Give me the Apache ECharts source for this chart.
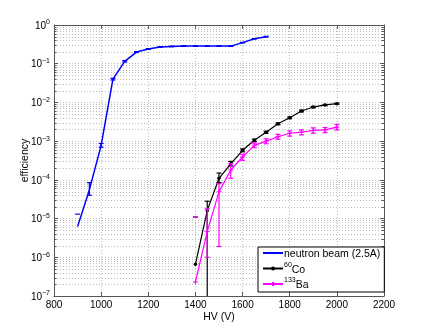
<!DOCTYPE html>
<html>
<head>
<meta charset="utf-8">
<script src="https://cdn.jsdelivr.net/npm/echarts@6/dist/echarts.min.js"></script>
<style>
  html, body { margin: 0; padding: 0; background: #fff; }
  #chart { width: 425px; height: 333px; }
</style>
</head>
<body>
<div id="chart"></div>
<script>
// HV settings (V)
const hvNeutron = [900, 950, 1000, 1050, 1100, 1150, 1200, 1250, 1300, 1350, 1400, 1450, 1500, 1550, 1600, 1650, 1700];
const effNeutron = [6.2e-6, 5.5e-5, 7.8e-4, 0.04, 0.115, 0.2, 0.24, 0.27, 0.28, 0.285, 0.285, 0.285, 0.285, 0.285, 0.35, 0.44, 0.5];
// error bar bounds (0 = lower bound not drawable on log axis)
const loNeutron = [0, 4.0e-5, 7.0e-4, 0.038, 0.11, 0.195, 0.235, 0.265, 0.275, 0.28, 0.28, 0.28, 0.28, 0.28, 0.345, 0.435, 0.49];
const hiNeutron = [1.3e-5, 8.5e-5, 8.7e-4, 0.042, 0.12, 0.205, 0.245, 0.275, 0.285, 0.29, 0.29, 0.29, 0.29, 0.29, 0.355, 0.445, 0.51];

const hvSource = [1400, 1450, 1500, 1550, 1600, 1650, 1700, 1750, 1800, 1850, 1900, 1950, 2000];
const effCo = [6.6e-7, 1.6e-5, 1.1e-4, 2.6e-4, 5.8e-4, 1.05e-3, 1.7e-3, 2.8e-3, 4.0e-3, 6.0e-3, 7.6e-3, 8.6e-3, 9.3e-3];
const loCo = [0, 1e-9, 8.5e-5, 2.3e-4, 5.3e-4, 9.7e-4, 1.6e-3, 2.65e-3, 3.8e-3, 5.7e-3, 7.3e-3, 8.3e-3, 9.0e-3];
const hiCo = [1.1e-5, 2.8e-5, 1.5e-4, 3.0e-4, 6.3e-4, 1.13e-3, 1.8e-3, 2.95e-3, 4.2e-3, 6.3e-3, 7.9e-3, 8.9e-3, 9.6e-3];

const effBa = [2.3e-7, 4.6e-6, 4.9e-5, 1.8e-4, 3.9e-4, 7.8e-4, 1.0e-3, 1.3e-3, 1.6e-3, 1.7e-3, 1.9e-3, 1.95e-3, 2.3e-3];
const loBa = [0, 1e-6, 1.9e-6, 1.1e-4, 3.2e-4, 6.8e-4, 8.6e-4, 1.12e-3, 1.35e-3, 1.45e-3, 1.6e-3, 1.65e-3, 1.95e-3];
const hiBa = [1.1e-5, 1.8e-5, 8.0e-5, 2.6e-4, 4.6e-4, 9.0e-4, 1.15e-3, 1.5e-3, 1.85e-3, 1.95e-3, 2.2e-3, 2.25e-3, 2.7e-3];

const legendNames = ['neutron beam (2.5A)', '60Co', '133Ba'];

const BLUE = '#0000ff', BLACK = '#000000', MAGENTA = '#ff00ff';
const GRIDCOL = '#bdbdbd';
const FONT = 'Liberation Sans';

// minor log grid positions (2..9 x 10^e)
const minorTicks = [];
for (let e = -7; e < 0; e++) {
  for (let m = 2; m <= 9; m++) minorTicks.push(m * Math.pow(10, e));
}

function pairs(xs, ys) {
  return xs.map((x, i) => [x, ys[i]]);
}
function errData(xs, ys, lo, hi) {
  return xs.map((x, i) => [x, ys[i], lo[i], hi[i]]);
}

function errorBar(color) {
  return function (params, api) {
    const cs = params.coordSys;
    const bottom = cs.y + cs.height;
    const x = api.value(0);
    const lo = api.value(2);
    const hi = api.value(3);
    const top = api.coord([x, hi]);
    const w = 2.5;
    const style = { stroke: color, lineWidth: 1.2 };
    const children = [];
    children.push({ type: 'line', shape: { x1: top[0] - w, y1: top[1], x2: top[0] + w, y2: top[1] }, style: style });
    if (lo > 0) {
      let yl = api.coord([x, lo])[1];
      let capped = true;
      if (yl > bottom) { yl = bottom; capped = false; }
      children.push({ type: 'line', shape: { x1: top[0], y1: top[1], x2: top[0], y2: yl }, style: style });
      if (capped) {
        children.push({ type: 'line', shape: { x1: top[0] - w, y1: yl, x2: top[0] + w, y2: yl }, style: style });
      }
    }
    return { type: 'group', children: children };
  };
}

function supLabel(value) {
  const e = Math.round(Math.log10(value));
  return '{b|10}{s|' + (e < 0 ? '\u2212' + (-e) : e) + '}';
}

const supRich = {
  b: { fontSize: 10, lineHeight: 12, verticalAlign: 'bottom', color: '#000', fontFamily: FONT },
  s: { fontSize: 7, lineHeight: 7, verticalAlign: 'top', color: '#000', fontFamily: FONT }
};

const chart = echarts.init(document.getElementById('chart'));

const option = {
  animation: false,
  backgroundColor: '#fff',
  textStyle: { fontFamily: FONT },
  grid: { left: 54, right: 41, top: 25, bottom: 37 },
  legend: {
    data: [
      { name: legendNames[0], itemStyle: { opacity: 0 } },
      { name: legendNames[1] },
      { name: legendNames[2] }
    ],
    orient: 'vertical',
    left: 258,
    top: 247,
    itemWidth: 20,
    itemHeight: 5,
    itemGap: 1.5,
    padding: [2, 4, 1, 4],
    backgroundColor: '#fff',
    borderColor: '#000',
    borderWidth: 1,
    borderRadius: 0,
    textStyle: {
      fontSize: 10,
      color: '#000',
      fontFamily: FONT,
      padding: [0, 0, 0, -4],
      rich: {
        b: { fontSize: 10.5, lineHeight: 14, verticalAlign: 'bottom', color: '#000', fontFamily: FONT },
        s: { fontSize: 7, lineHeight: 7, verticalAlign: 'top', color: '#000', fontFamily: FONT }
      }
    },
    formatter: function (name) {
      if (name === '60Co') return '{s|60}{b|Co}';
      if (name === '133Ba') return '{s|133}{b|Ba}';
      return '{b|' + name + '}';
    }
  },
  xAxis: [
    {
      type: 'value',
      min: 800,
      max: 2200,
      interval: 200,
      name: 'HV (V)',
      nameLocation: 'middle',
      nameGap: 16,
      nameMoveOverlap: false,
      nameTextStyle: { fontSize: 10.5, color: '#000', fontFamily: FONT },
      axisLine: { lineStyle: { color: '#555', width: 1 } },
      axisTick: { inside: true, length: 4, lineStyle: { color: '#555' } },
      axisLabel: { fontSize: 10, color: '#000', margin: 4, formatter: v => String(v) },
      splitLine: { show: true, lineStyle: { color: GRIDCOL, type: [1, 2], width: 1 } }
    },
    {
      type: 'value',
      position: 'top',
      min: 800,
      max: 2200,
      interval: 200,
      axisLine: { show: true, onZero: false, lineStyle: { color: '#555', width: 1 } },
      axisTick: { inside: true, length: 4, lineStyle: { color: '#555' } },
      axisLabel: { show: false },
      splitLine: { show: false }
    }
  ],
  yAxis: [
    {
      type: 'log',
      logBase: 10,
      min: 1e-7,
      max: 1,
      splitNumber: 7,
      name: 'efficiency',
      nameLocation: 'middle',
      nameGap: 23,
      nameMoveOverlap: false,
      nameRotate: 90,
      nameTextStyle: { fontSize: 10.5, color: '#000', fontFamily: FONT },
      axisLine: { show: true, lineStyle: { color: '#555', width: 1 } },
      axisTick: { inside: true, length: 4, lineStyle: { color: '#555' } },
      axisLabel: { fontSize: 10, color: '#000', margin: 4, formatter: supLabel, rich: supRich },
      splitLine: { show: true, lineStyle: { color: GRIDCOL, type: [1, 2], width: 1 } }
    },
    {
      type: 'log',
      logBase: 10,
      min: 1e-7,
      max: 1,
      splitNumber: 7,
      position: 'right',
      axisLine: { show: true, onZero: false, lineStyle: { color: '#555', width: 1 } },
      axisTick: { inside: true, length: 4, lineStyle: { color: '#555' } },
      axisLabel: { show: false },
      splitLine: { show: false }
    }
  ],
  series: [
    {
      // minor log grid lines and minor ticks
      type: 'custom',
      silent: true,
      z: 0,
      data: minorTicks.map(v => [800, v]),
      encode: { x: 0, y: 1 },
      renderItem: function (params, api) {
        const cs = params.coordSys;
        const y = Math.round(api.coord([800, api.value(1)])[1]) + 0.5;
        return {
          type: 'group',
          children: [
            { type: 'line', shape: { x1: cs.x, y1: y, x2: cs.x + cs.width, y2: y },
              style: { stroke: GRIDCOL, lineWidth: 1, lineDash: [1, 2] } },
            { type: 'line', shape: { x1: cs.x, y1: y, x2: cs.x + 2.5, y2: y },
              style: { stroke: '#555', lineWidth: 1 } },
            { type: 'line', shape: { x1: cs.x + cs.width - 2.5, y1: y, x2: cs.x + cs.width, y2: y },
              style: { stroke: '#555', lineWidth: 1 } }
          ]
        };
      }
    },
    {
      name: 'neutron beam (2.5A)',
      type: 'line',
      data: pairs(hvNeutron, effNeutron),
      symbol: 'none',
      lineStyle: { color: BLUE, width: 1.5 },
      itemStyle: { color: BLUE },
      z: 3
    },
    {
      type: 'custom',
      silent: true,
      data: errData(hvNeutron, effNeutron, loNeutron, hiNeutron),
      encode: { x: 0, y: 1 },
      renderItem: errorBar(BLUE),
      z: 3
    },
    {
      name: '60Co',
      type: 'line',
      data: pairs(hvSource, effCo),
      symbol: 'circle',
      symbolSize: 3.5,
      lineStyle: { color: BLACK, width: 1.2 },
      itemStyle: { color: BLACK },
      z: 4
    },
    {
      type: 'custom',
      silent: true,
      data: errData(hvSource, effCo, loCo, hiCo),
      encode: { x: 0, y: 1 },
      renderItem: errorBar(BLACK),
      z: 4
    },
    {
      name: '133Ba',
      type: 'line',
      data: pairs(hvSource, effBa),
      symbol: 'path://M0,5L10,5M5,0L5,10',
      symbolSize: 5,
      lineStyle: { color: MAGENTA, width: 1.2 },
      itemStyle: { color: MAGENTA, borderColor: MAGENTA, borderWidth: 1 },
      z: 5
    },
    {
      type: 'custom',
      silent: true,
      data: errData(hvSource, effBa, loBa, hiBa),
      encode: { x: 0, y: 1 },
      renderItem: errorBar(MAGENTA),
      z: 5
    }
  ]
};

chart.setOption(option);
</script>
</body>
</html>
